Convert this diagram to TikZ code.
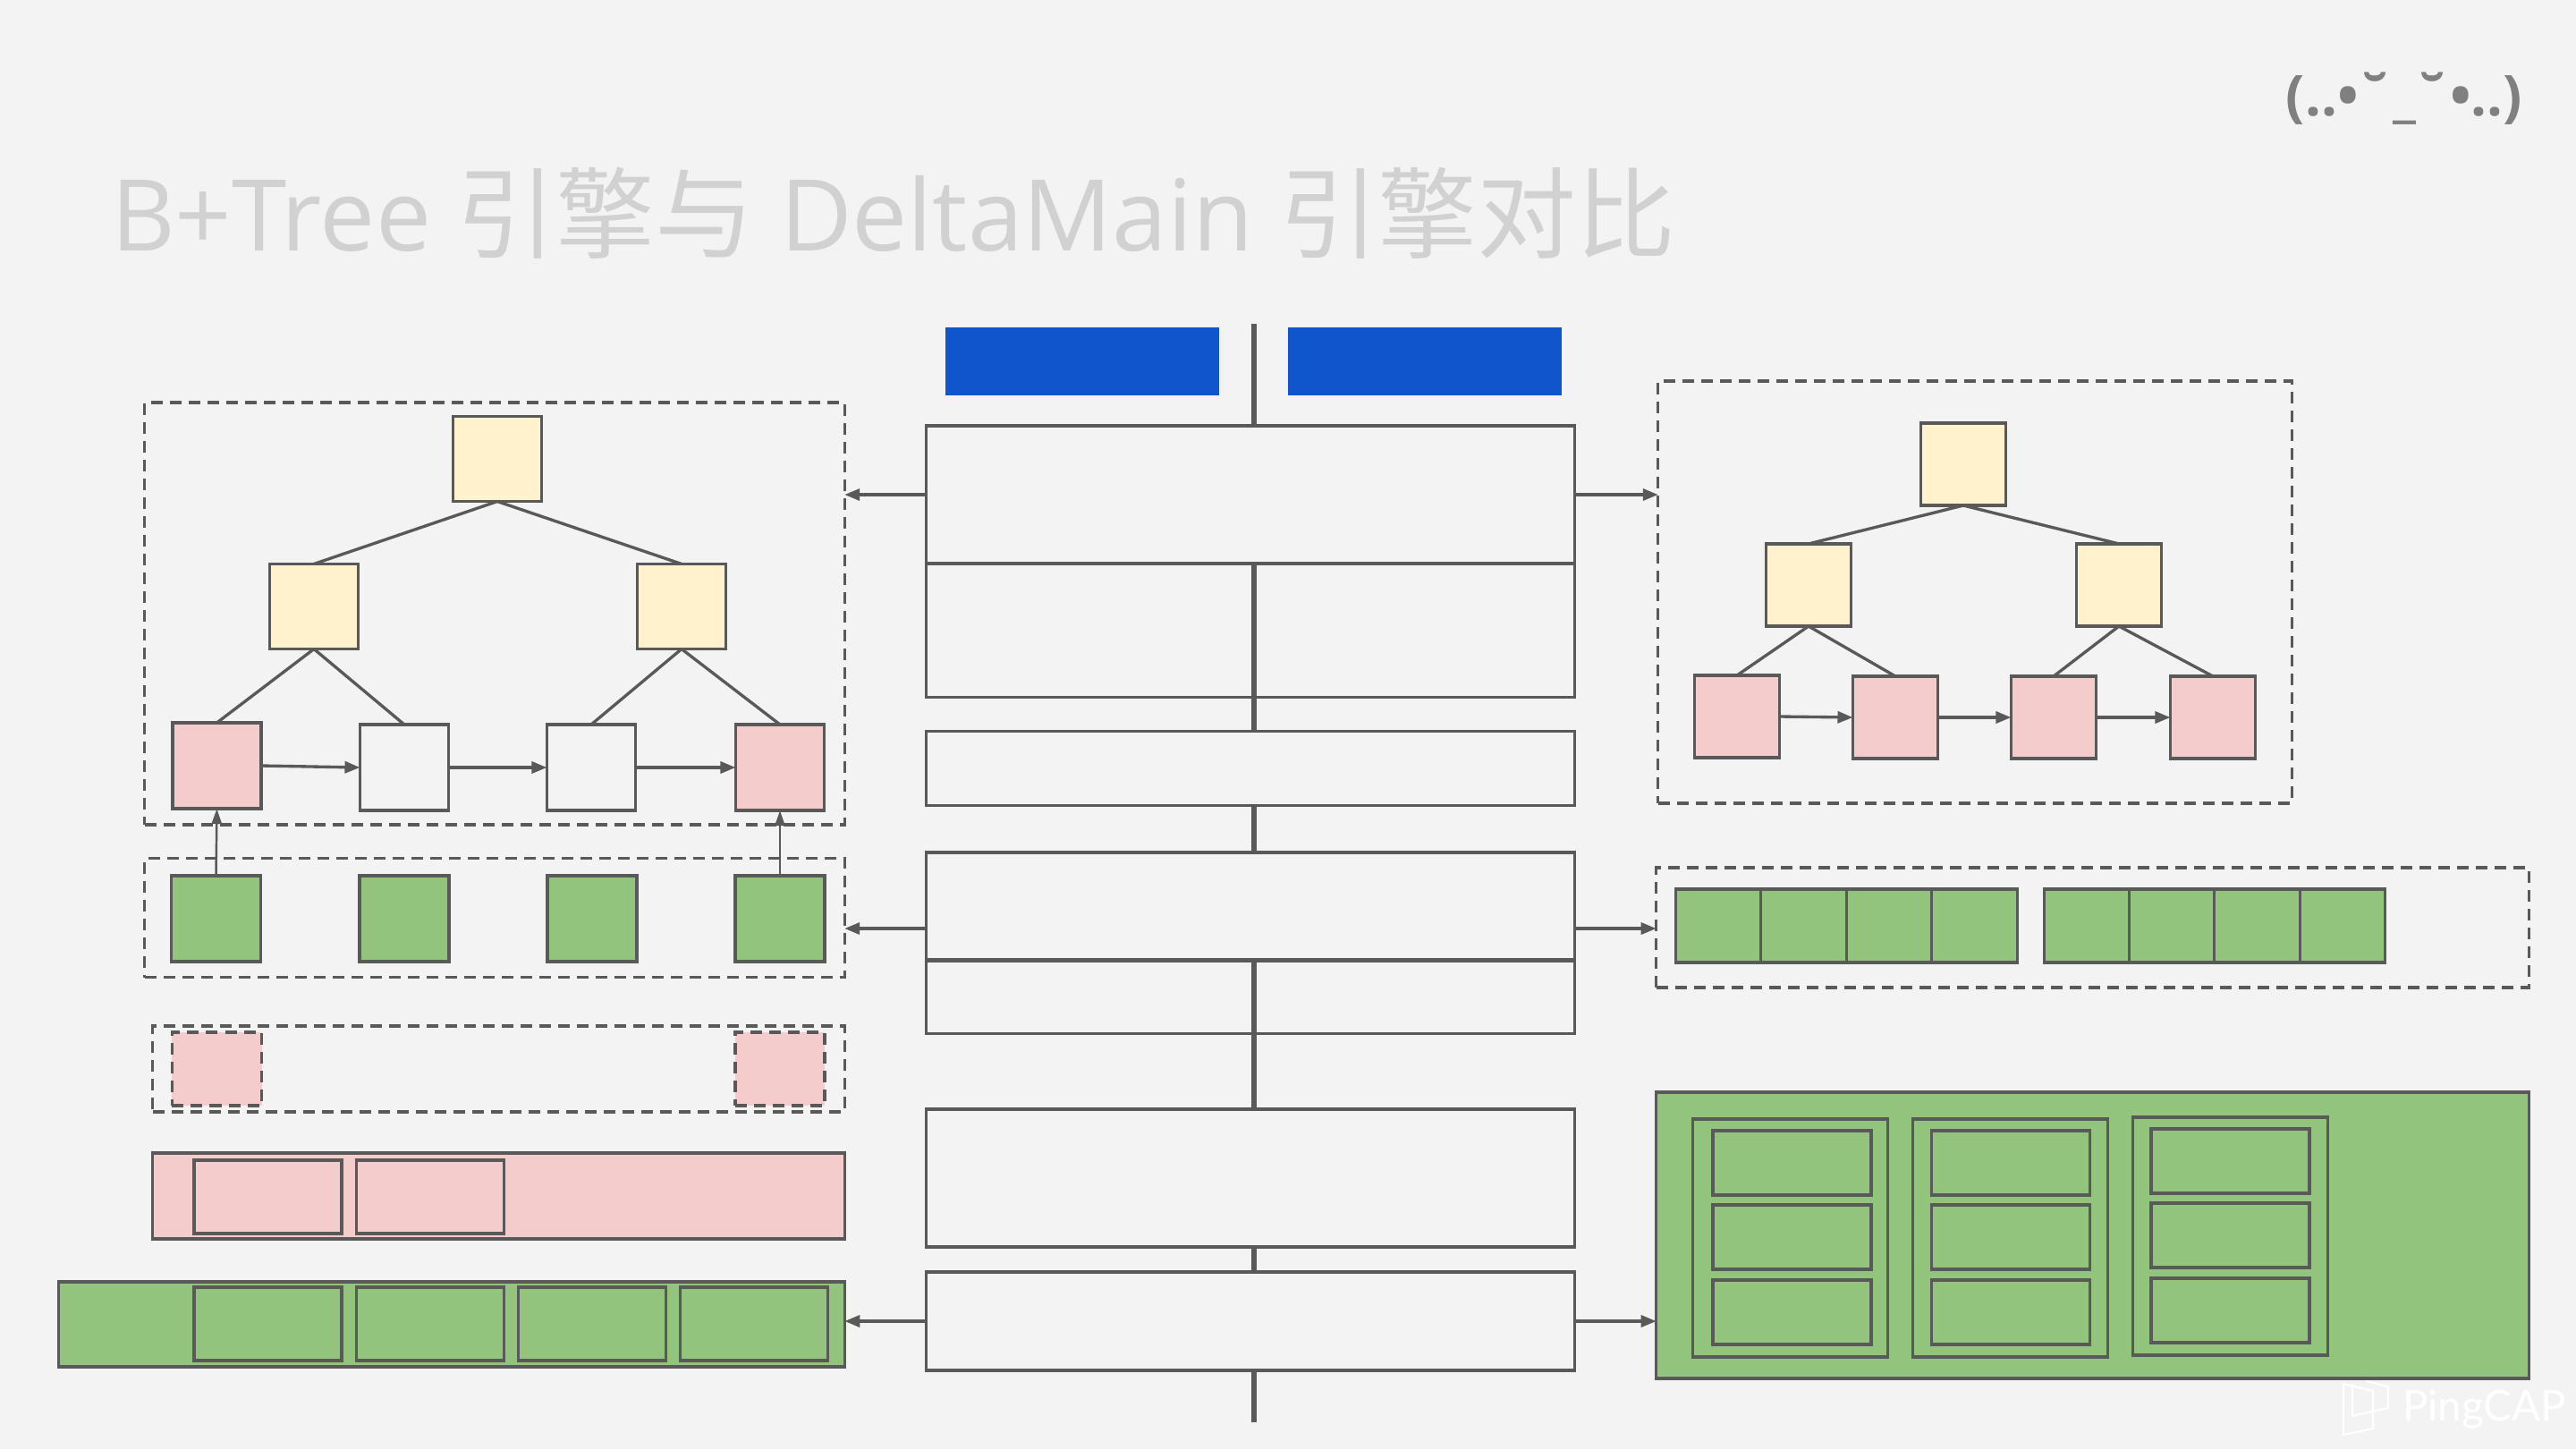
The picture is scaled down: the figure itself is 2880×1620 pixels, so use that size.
\documentclass[tikz,border=0pt]{standalone}
\usepackage{fontspec}
\setmainfont{Open Sans}
\newfontfamily\cjkfont{Noto Sans CJK SC}
\newfontfamily\logofont{Lato}
\definecolor{bggrey}{HTML}{F3F3F3}
\definecolor{linegrey}{HTML}{595959}
\definecolor{yellowish}{HTML}{FFF2CC}
\definecolor{pinkish}{HTML}{F4CCCC}
\definecolor{greenish}{HTML}{93C47D}
\definecolor{bluish}{HTML}{1155CC}
\usetikzlibrary{arrows.meta}
\tikzset{
    base/.style={inner sep=0pt, outer sep=0pt},
    plain/.style={base, draw=linegrey, line width=0.95pt},
    layer/.style={plain, fill=bggrey, minimum width=7.24cm},
    splitlayer/.style={plain, minimum width=7.24cm},
    tag/.style={base, fill=bluish, minimum width=3.06cm, minimum height=0.76cm},
    frame/.style={base, draw=linegrey, line width=0.95pt, dash pattern=on 0.13cm off 0.08cm},
    innode/.style={plain, fill=yellowish, minimum width=0.99cm, minimum height=0.95cm},
    leaf/.style={plain, minimum width=0.99cm, minimum height=0.96cm},
    pinkleaf/.style={leaf, fill=pinkish},
    rinnode/.style={plain, fill=yellowish, minimum width=0.95cm, minimum height=0.92cm},
    rleaf/.style={plain, fill=pinkish, minimum width=0.95cm, minimum height=0.92cm},
    page/.style={plain, fill=greenish, minimum width=1.00cm, minimum height=0.96cm},
    ghost/.style={base, fill=pinkish, frame, minimum width=1.00cm, minimum height=0.82cm},
    slot/.style={plain, minimum width=1.65cm, minimum height=0.82cm},
    cell/.style={plain, minimum width=0.955cm, minimum height=0.82cm},
    block/.style={plain, minimum width=1.77cm, minimum height=0.72cm},
    segment/.style={plain, minimum width=2.18cm, minimum height=2.66cm},
    link/.style={draw=linegrey, line width=0.95pt, -{Triangle[length=0.17cm,width=0.13cm]}},
    uplink/.style={draw=linegrey, line width=0.7pt, -{Triangle[length=0.17cm,width=0.11cm]}},
    edge/.style={draw=linegrey, line width=0.95pt}
}

\begin{document}
\begin{tikzpicture}[x=0.01cm, y=-0.01cm]
    \useasboundingbox (0,0) rectangle (2880,1620);
    \fill [bggrey] (0,0) rectangle (2880,1620);

    % heading
    \node [base, anchor=base west, text=black!18, font=\fontsize{31.5pt}{38pt}\selectfont] (title) at (124,280)
        {B+Tree {\cjkfont 引擎与} DeltaMain {\cjkfont 引擎对比}};
    \node [base, anchor=center, text=black!50, font=\bfseries\fontsize{17.9pt}{22pt}\selectfont] (face) at (2688,110)
        {(..•˘\_˘•..)};

    % watermark
    \draw [white, line width=0.6pt, line join=round] (2620,1547) -- (2653,1555) -- (2653,1597) -- (2620,1604) -- cycle;
    \draw [white, line width=0.6pt, line join=round] (2645,1544) -- (2670,1550) -- (2670,1574) -- (2630,1583) -- (2630,1547);
    \node [base, anchor=base west, text=white, font=\logofont\fontsize{13.5pt}{16pt}\selectfont] (logo) at (2686,1588) {PingCAP};

    % centre column
    \coordinate (spinetop) at (1402,362);
    \coordinate (spinebot) at (1402,1590);
    \draw [draw=linegrey, line width=1.5pt] (spinetop) -- (spinebot);
    \node [tag] (taga) at (1210,404) {};
    \node [tag] (tagb) at (1593,404) {};
    \node [layer, minimum height=1.54cm] (laya) at (1398,553) {};
    \node [splitlayer, minimum height=1.49cm] (layb) at (1398,705) {};
    \node [layer, minimum height=0.83cm] (layc) at (1398,859) {};
    \node [layer, minimum height=1.20cm] (layd) at (1398,1013) {};
    \node [splitlayer, minimum height=0.81cm] (laye) at (1398,1115) {};
    \node [layer, minimum height=1.54cm] (layf) at (1398,1317) {};
    \node [layer, minimum height=1.10cm] (layg) at (1398,1477) {};

    % left tree
    \node [frame, minimum width=7.82cm, minimum height=4.72cm] (treeframe) at (553,686) {};
    \node [innode] (root) at (556,513) {};
    \node [innode] (mida) at (351,678) {};
    \node [innode] (midb) at (762,678) {};
    \node [pinkleaf] (leafa) at (242.5,856) {};
    \node [leaf] (leafb) at (452,858) {};
    \node [leaf] (leafc) at (661,858) {};
    \node [pinkleaf] (leafd) at (872,858) {};
    \draw [edge] (root.south) -- (mida.north);
    \draw [edge] (root.south) -- (midb.north);
    \draw [edge] (mida.south) -- (leafa.north);
    \draw [edge] (mida.south) -- (leafb.north);
    \draw [edge] (midb.south) -- (leafc.north);
    \draw [edge] (midb.south) -- (leafd.north);
    \draw [link] (leafa.east) -- (leafb.west);
    \draw [link] (leafb.east) -- (leafc.west);
    \draw [link] (leafc.east) -- (leafd.west);

    % left pages
    \node [frame, minimum width=7.82cm, minimum height=1.33cm] (pageframe) at (553,1026) {};
    \node [page] (pagea) at (241.5,1027) {};
    \node [page] (pageb) at (452,1027) {};
    \node [page] (pagec) at (662,1027) {};
    \node [page] (paged) at (872,1027) {};
    \draw [uplink] (pagea.north) -- (leafa.south);
    \draw [uplink] (paged.north) -- (leafd.south);

    % left dirty pages
    \node [frame, minimum width=7.73cm, minimum height=0.96cm] (ghostframe) at (557.5,1195) {};
    \node [ghost] (ghosta) at (242.5,1195) {};
    \node [ghost] (ghostb) at (872,1195) {};

    % left buffers
    \node [plain, fill=pinkish, minimum width=7.73cm, minimum height=0.96cm] (pinkbar) at (557.5,1337) {};
    \node [slot] (pinka) at (299.5,1338) {};
    \node [slot] (pinkb) at (481,1338) {};
    \node [plain, fill=greenish, minimum width=8.78cm, minimum height=0.95cm] (greenbar) at (505,1480.5) {};
    \node [slot] (greena) at (299.5,1480) {};
    \node [slot] (greenb) at (481,1480) {};
    \node [slot] (greenc) at (662,1480) {};
    \node [slot] (greend) at (843,1480) {};

    % right tree
    \node [frame, minimum width=7.08cm, minimum height=4.72cm] (rtreeframe) at (2208,662) {};
    \node [rinnode] (rroot) at (2195,519) {};
    \node [rinnode] (rmida) at (2022,654) {};
    \node [rinnode] (rmidb) at (2369,654) {};
    \node [rleaf] (rleafa) at (1942,801) {};
    \node [rleaf] (rleafb) at (2119,802) {};
    \node [rleaf] (rleafc) at (2296,802) {};
    \node [rleaf] (rleafd) at (2474,802) {};
    \draw [edge] (rroot.south) -- (rmida.north);
    \draw [edge] (rroot.south) -- (rmidb.north);
    \draw [edge] (rmida.south) -- (rleafa.north);
    \draw [edge] (rmida.south) -- (rleafb.north);
    \draw [edge] (rmidb.south) -- (rleafc.north);
    \draw [edge] (rmidb.south) -- (rleafd.north);
    \draw [link] (rleafa.east) -- (rleafb.west);
    \draw [link] (rleafb.east) -- (rleafc.west);
    \draw [link] (rleafc.east) -- (rleafd.west);

    % right delta chunks
    \node [frame, minimum width=9.75cm, minimum height=1.34cm] (deltaframe) at (2339.5,1037) {};
    \foreach \name/\px in {ca/1921.5,cb/2016.5,cc/2112,cd/2207.5,ce/2333,cf/2428,cg/2523.5,ch/2619} {
        \node [cell, fill=greenish] (\name) at (\px,1035) {};
    }

    % right stable
    \node [plain, fill=greenish, minimum width=9.75cm, minimum height=3.20cm] (stable) at (2339.5,1381) {};
    \foreach \name/\px/\py in {sa/2001.5/1384,sb/2247.5/1384,sc/2493.5/1382} {
        \node [segment] (\name) at (\px,\py) {};
    }
    \foreach \name/\px/\py in {ba/2003.5/1300,bb/2003.5/1383,bc/2003.5/1467,bd/2248/1300,be/2248/1383,bf/2248/1467,bg/2493.5/1298,bh/2493.5/1381,bi/2493.5/1465} {
        \node [block] (\name) at (\px,\py) {};
    }

    % arrows out of the column
    \draw [link] (laya.west) -- (laya.west -| treeframe.east);
    \draw [link] (laya.east) -- (laya.east -| rtreeframe.west);
    \draw [link] ([yshift=-0.25cm]layd.west) -- ([yshift=-0.25cm]layd.west -| pageframe.east);
    \draw [link] ([yshift=-0.25cm]layd.east) -- ([yshift=-0.25cm]layd.east -| deltaframe.west);
    \draw [link] (layg.west) -- (layg.west -| greenbar.east);
    \draw [link] (layg.east) -- (layg.east -| stable.west);
\end{tikzpicture}
\end{document}
